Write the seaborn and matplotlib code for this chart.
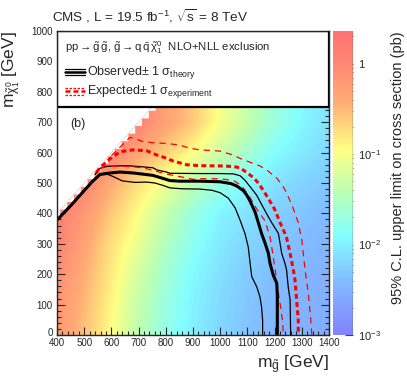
import numpy as np
import matplotlib
matplotlib.use("Agg")
import matplotlib.pyplot as plt
import matplotlib.transforms as mtransforms
import seaborn as sns
from matplotlib.colors import LinearSegmentedColormap, Normalize, LogNorm
from matplotlib.patches import Rectangle, Polygon
from matplotlib.cm import ScalarMappable
from matplotlib.ticker import MultipleLocator

sns.set_style("ticks")
plt.rcParams['font.family'] = ['Liberation Sans', 'DejaVu Sans']
plt.rcParams['mathtext.fontset'] = 'custom'
plt.rcParams['mathtext.rm'] = 'Liberation Sans'
plt.rcParams['mathtext.it'] = 'Liberation Sans:italic'
plt.rcParams['mathtext.default'] = 'regular'

# grid of log10(limit / pb), rows = m_LSP, columns = m_gluino
mg_grid = [400, 500, 600, 700, 800, 900, 1000, 1100, 1200, 1300, 1400]
ml_grid = [0, 100, 200, 300, 400, 500, 600, 700]
lim_0 = [-0.20, -0.55, -0.95, -1.40, -1.75, -2.00, -2.20, -2.35, -2.45, -2.50, -2.55]
lim_100 = [-0.15, -0.50, -0.90, -1.35, -1.70, -1.97, -2.17, -2.32, -2.43, -2.49, -2.54]
lim_200 = [-0.05, -0.42, -0.82, -1.25, -1.62, -1.92, -2.12, -2.28, -2.40, -2.46, -2.52]
lim_300 = [0.05, -0.32, -0.75, -1.10, -1.50, -1.82, -2.05, -2.20, -2.33, -2.40, -2.47]
lim_400 = [0.15, -0.20, -0.60, -0.95, -1.35, -1.70, -1.95, -2.10, -2.25, -2.33, -2.42]
lim_500 = [0.20, 0.05, -0.40, -0.75, -1.05, -1.40, -1.70, -1.92, -2.10, -2.22, -2.32]
lim_600 = [0.25, 0.20, 0.05, -0.35, -0.65, -0.95, -1.30, -1.60, -1.88, -2.05, -2.20]
lim_700 = [0.30, 0.25, 0.20, 0.05, -0.30, -0.60, -1.00, -1.35, -1.68, -1.92, -2.10]

# contours (m_gluino, m_LSP)
obs_mg = [400, 450, 500, 530, 558, 595, 632, 680, 717, 753, 790, 815, 850, 926, 1000, 1040, 1061, 1085, 1097,
          1110, 1128, 1140, 1152, 1165, 1177, 1183, 1195, 1208, 1210, 1210]
obs_ml = [378, 425, 475, 505, 528, 533, 536, 533, 529, 525, 515, 508, 506, 506, 504, 498, 490, 475, 461,
          440, 405, 370, 334, 302, 269, 236, 197, 170, 126, 0]
obs_up_mg = [540, 558, 580, 656, 705, 753, 767, 803, 815, 926, 1000, 1048, 1073, 1090, 1110, 1134, 1155, 1175,
             1189, 1214, 1220, 1226, 1238, 1244, 1250, 1257, 1259]
obs_up_ml = [528, 548, 555, 557, 554, 550, 543, 536, 532, 531, 531, 530, 524, 510, 488, 460, 425, 392,
             370, 334, 302, 269, 236, 214, 159, 115, 0]
obs_dn_mg = [552, 576, 607, 640, 687, 730, 760, 790, 815, 858, 926, 970, 1000, 1030, 1055, 1073, 1091, 1103,
             1110, 1116, 1134, 1146, 1152, 1156, 1156]
obs_dn_ml = [526, 532, 521, 507, 502, 503, 500, 492, 484, 481, 480, 476, 468, 450, 418, 378, 334, 290,
             236, 192, 159, 126, 93, 49, 0]
exp_mg = [545, 558, 595, 632, 680, 730, 767, 791, 828, 877, 926, 1011, 1050, 1073, 1097, 1122, 1140, 1159,
          1183, 1201, 1220, 1235, 1244, 1257, 1269, 1275, 1281, 1287, 1287]
exp_ml = [535, 550, 580, 603, 609, 606, 592, 585, 572, 560, 557, 556, 554, 550, 535, 518, 500, 475,
          440, 412, 370, 340, 320, 269, 214, 181, 115, 49, 0]
exp_up_mg = [600, 640, 668, 690, 717, 760, 803, 850, 889, 926, 999, 1048, 1073, 1110, 1146, 1171, 1208, 1230,
             1244, 1269, 1287, 1300, 1312, 1324, 1333, 1337]
exp_up_ml = [590, 625, 650, 645, 636, 632, 630, 625, 614, 609, 605, 592, 581, 568, 556, 543, 516, 490,
             468, 415, 370, 312, 214, 137, 49, 0]
exp_dn_mg = [560, 600, 656, 717, 767, 810, 852, 901, 926, 1000, 1050, 1080, 1110, 1134, 1165, 1183, 1193, 1202,
             1210, 1222, 1230, 1232]
exp_dn_ml = [550, 555, 555, 550, 538, 528, 521, 512, 514, 514, 508, 490, 452, 415, 375, 324, 269, 215,
             159, 93, 40, 0]

cmap = LinearSegmentedColormap.from_list("root", [
    (0.00, "#8282ff"), (0.17, "#82baff"), (0.33, "#84ffff"), (0.47, "#bcffb4"),
    (0.61, "#ffff84"), (0.77, "#ffac74"), (0.90, "#ff8674"), (1.00, "#ff7272")])
zmin, zmax = -3.0, np.log10(2.3)

fig = plt.figure(figsize=(4.07, 3.91), dpi=100)
ax = fig.add_axes([57 / 407, 56 / 391, 272 / 407, 304 / 391])
cax = fig.add_axes([333 / 407, 56 / 391, 20 / 407, 304 / 391])

grid = np.array([lim_0, lim_100, lim_200, lim_300, lim_400, lim_500, lim_600, lim_700])
ax.imshow(grid, origin='lower', extent=[350, 1450, -50, 750], cmap=cmap,
          norm=Normalize(zmin, zmax), interpolation='bilinear', aspect='auto', zorder=0)

# white region above the diagonal (25 GeV steps)
verts = [(400, 387.5)]
for c in range(400, 800, 25):
    verts += [(c + 12.5, c - 12.5), (c + 12.5, c + 12.5)]
verts += [(400, 812.5)]
ax.add_patch(Polygon(verts, closed=True, facecolor='white', edgecolor='none', zorder=1))
ax.plot([400, 800], [400, 800], color='#c8c8c8', lw=0.6, ls=(0, (2, 1)), zorder=1)

red = '#ff0000'
sns.lineplot(x=obs_up_mg, y=obs_up_ml, sort=False, estimator=None, color='black', lw=0.9, ax=ax, zorder=3)
sns.lineplot(x=obs_dn_mg, y=obs_dn_ml, sort=False, estimator=None, color='black', lw=0.9, ax=ax, zorder=3)
sns.lineplot(x=exp_up_mg, y=exp_up_ml, sort=False, estimator=None, color=red, lw=0.9,
             linestyle=(0, (5, 4)), ax=ax, zorder=3)
sns.lineplot(x=exp_dn_mg, y=exp_dn_ml, sort=False, estimator=None, color=red, lw=0.9,
             linestyle=(0, (5, 4)), ax=ax, zorder=3)
sns.lineplot(x=exp_mg, y=exp_ml, sort=False, estimator=None, color=red, lw=2.2,
             linestyle=(0, (1.6, 1.1)), ax=ax, zorder=4)
sns.lineplot(x=obs_mg, y=obs_ml, sort=False, estimator=None, color='black', lw=2.2, ax=ax, zorder=4)

ax.set_xlim(400, 1400)
ax.set_ylim(0, 1000)
ax.xaxis.set_major_locator(MultipleLocator(100))
ax.xaxis.set_minor_locator(MultipleLocator(20))
ax.yaxis.set_major_locator(MultipleLocator(100))
ax.yaxis.set_minor_locator(MultipleLocator(20))
ax.tick_params(which='both', direction='in', top=True, right=True, labelsize=7, pad=2, width=0.8)
ax.tick_params(axis='y', pad=3)
ax.tick_params(which='major', length=5.5)
ax.tick_params(which='minor', length=2.8)
for s in ax.spines.values():
    s.set_linewidth(1.0)
    s.set_zorder(6)

# nudge the "0" label up a little so it sits clear of "400"
fig.canvas.draw()
for lab in ax.get_yticklabels():
    if lab.get_text() == '0':
        lab.set_transform(lab.get_transform() + mtransforms.ScaledTranslation(0, 3 / 100, fig.dpi_scale_trans))

# legend box
ax.add_patch(Rectangle((400, 750), 1000, 250, facecolor='white', edgecolor='black', lw=1.6, zorder=5))
ax.text(429, 947, r'pp$\rightarrow\tilde{g}\,\tilde{g}$, $\tilde{g}\rightarrow$q$\,\bar{q}\,\tilde{\chi}^{0}_{1}$  NLO+NLL exclusion',
        fontsize=8.2, va='center', ha='left', zorder=7)
for dy, w in [(-10, 0.9), (0, 1.8), (10, 0.9)]:
    ax.plot([429, 503], [865 + dy, 865 + dy], color='black', lw=w, zorder=7)
for dy, w in [(-11, 0.9), (0, 1.8), (11, 0.9)]:
    ax.plot([429, 503], [801 + dy, 801 + dy], color=red, lw=w, ls=(0, (2, 1.2)), zorder=7)
ax.text(510, 865, r'Observed$\pm$ 1 $\sigma_{theory}$', fontsize=9, va='center', ha='left', zorder=7)
ax.text(510, 801, r'Expected$\pm$ 1 $\sigma_{experiment}$', fontsize=9, va='center', ha='left', zorder=7)
ax.text(448, 694, '(b)', fontsize=9, va='center', ha='left', zorder=7)

ax.set_xlabel(r'm$_{\tilde{g}}$ [GeV]', loc='right', fontsize=12.5, labelpad=4)
ax.set_ylabel(r'm$_{\tilde{\chi}^{0}_{1}}$ [GeV]', loc='top', fontsize=12.5, labelpad=7)

fig.text(52 / 407, 1 - 16 / 391, r'CMS , L = 19.5 fb$^{-1}$, $\sqrt{s}$ = 8 TeV',
         fontsize=9.7, ha='left', va='center')

sm = ScalarMappable(norm=LogNorm(10 ** zmin, 10 ** zmax), cmap=cmap)
cb = fig.colorbar(sm, cax=cax)
cb.set_ticks([1e-3, 1e-2, 1e-1, 1])
cb.set_ticklabels([r'$10^{-3}$', r'$10^{-2}$', r'$10^{-1}$', '1'])
cb.ax.tick_params(which='both', direction='in', labelsize=8, width=0.8, color='#444444')
cb.ax.tick_params(which='major', length=6)
cb.ax.tick_params(which='minor', length=3)
cb.outline.set_visible(False)
cb.ax.axvline(1, color='#555555', lw=1.0)
cb.set_label('95% C.L. upper limit on cross section (pb)', loc='top', fontsize=10.5, labelpad=7)

fig.savefig('out.png', dpi=100)
